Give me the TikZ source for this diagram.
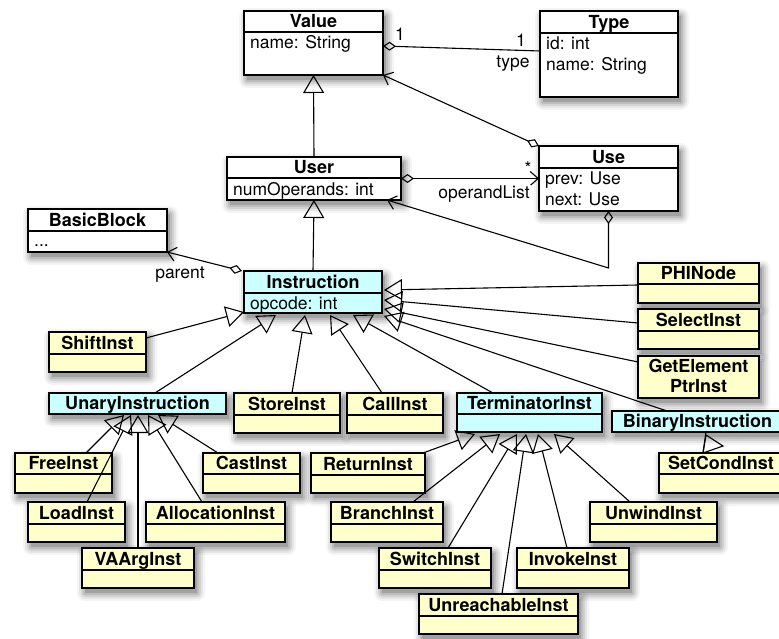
\documentclass[tikz,border=0pt]{standalone}
\usepackage{fontspec}
\setmainfont{TeX Gyre Heros}
\usetikzlibrary{arrows.meta}

\definecolor{clsyellow}{HTML}{FFFFCC}
\definecolor{clscyan}{HTML}{CCFFFF}

\newcommand\regfont{\fontsize{17.5}{20}\selectfont}
\newcommand\headfont{\fontsize{18}{20}\selectfont\bfseries}

\tikzset{
  x=1pt, y=-1pt,
  box/.style={draw=black, line width=1.2pt, rectangle, inner sep=0pt, outer sep=0pt},
  rule/.style={line width=1.2pt},
  title/.style={font=\headfont, inner sep=0pt, text height=12.9pt, text depth=0pt},
  attr/.style={font=\regfont, anchor=west, inner sep=0pt, text height=12.5pt, text depth=0pt},
  lbl/.style={font=\regfont, inner sep=1pt, text height=12.5pt, text depth=0pt},
  inh/.style={line width=1.1pt, -{Triangle[open, length=18pt, width=21pt]}},
  assoc/.style={line width=1.1pt, {Diamond[open, length=13pt, width=9pt]}-{Straight Barb[length=8pt, width=14pt]}},
  aggr/.style={line width=1.1pt, {Diamond[open, length=13pt, width=9pt]}-},
}

% class box: name, fill, left, top, right, bottom, divider (0 = none), title
\newcommand\classbox[8]{%
  \foreach \g/\o in {8/0.04,6/0.06,4/0.08,2/0.1,0/0.14}{%
    \fill[black, opacity=\o, rounded corners=\g pt] ({#3+3-\g},{#4+5-\g}) rectangle ({#5+3+\g},{#6+5+\g});
  }%
  \node[box, fill=#2, minimum width={#5-#3}, minimum height={#6-#4}] (#1) at ({(#3+#5)/2},{(#4+#6)/2}) {};
  \ifnum#7>0
    \draw[rule] (#3,#7) -- (#5,#7);
    \node[title] (#1-title) at ({(#3+#5)/2},{(#4+#7)/2}) {#8};
  \else
    \node[title] (#1-title) at ({(#3+#5)/2},{(#4+#6)/2}) {#8};
  \fi
}

\begin{document}
\begin{tikzpicture}
\useasboundingbox (0,0) rectangle (779,639);
\clip (0,0) rectangle (779,639);
\fill[white] (0,0) rectangle (779,639);

% core classes
\classbox{value}{white}{244}{11}{383}{75}{32}{Value}
\node[attr] (value-a1) at (250,42) {name: String};

\classbox{type}{white}{540}{11}{678}{97}{33}{Type}
\node[attr] (type-a1) at (546,43) {id: int};
\node[attr] (type-a2) at (546,64) {name: String};

\classbox{user}{white}{227}{157}{401}{200}{178}{User}
\node[attr] (user-a1) at (233,189.5) {numOperands: int};

\classbox{use}{white}{539}{146}{678}{211}{168}{Use}
\node[attr] (use-a1) at (545,178.5) {prev: Use};
\node[attr] (use-a2) at (545,199.5) {next: Use};

\classbox{bb}{white}{28}{209}{167}{252}{231}{BasicBlock}
\node[attr] (bb-a1) at (34,240) {...};

\classbox{instr}{clscyan}{244}{271}{382}{313}{293}{Instruction}
\node[attr] (instr-a1) at (250,303) {opcode: int};

% instruction subclasses
\classbox{phi}{clsyellow}{638}{263}{759}{303}{284}{PHINode}
\classbox{select}{clsyellow}{638}{309}{759}{349}{331}{SelectInst}
\classbox{gep}{clsyellow}{638}{356}{759}{398}{0}{}
\node[title] (gep-t1) at (698.5,366.5) {GetElement};
\node[title] (gep-t2) at (698.5,386.5) {PtrInst};
\classbox{shift}{clsyellow}{49}{332}{146}{372}{354}{ShiftInst}
\classbox{unary}{clscyan}{49}{393}{226}{414}{0}{UnaryInstruction}
\classbox{store}{clsyellow}{234}{393}{340}{433}{415}{StoreInst}
\classbox{call}{clsyellow}{347}{393}{443}{433}{415}{CallInst}
\classbox{term}{clscyan}{457}{393}{602}{432}{414}{TerminatorInst}
\classbox{binary}{clscyan}{612}{411}{783}{432}{0}{BinaryInstruction}

\classbox{free}{clsyellow}{15}{453}{112}{493}{474}{FreeInst}
\classbox{cast}{clsyellow}{203}{453}{300}{493}{474}{CastInst}
\classbox{load}{clsyellow}{28}{502}{125}{542}{524}{LoadInst}
\classbox{alloc}{clsyellow}{146}{502}{285}{542}{524}{AllocationInst}
\classbox{vaarg}{clsyellow}{82}{548}{194}{588}{570}{VAArgInst}

\classbox{ret}{clsyellow}{311}{453}{425}{493}{475}{ReturnInst}
\classbox{setcond}{clsyellow}{659}{453}{783}{493}{474}{SetCondInst}
\classbox{branch}{clsyellow}{331}{502}{443}{542}{524}{BranchInst}
\classbox{unwind}{clsyellow}{590}{502}{717}{542}{524}{UnwindInst}
\classbox{switch}{clsyellow}{379}{548}{491}{588}{570}{SwitchInst}
\classbox{invoke}{clsyellow}{517}{548}{629}{588}{570}{InvokeInst}
\classbox{unreach}{clsyellow}{419}{594}{578}{634}{616}{UnreachableInst}

% generalisations
\draw[inh] (user.north) -- (value.south);
\draw[inh] (instr.north) -- (user.south);

\draw[inh] ([yshift=-6pt]shift.north east) -- ([yshift=1pt]instr.south west);
\draw[inh] ([xshift=106pt]unary.north west) -- ([xshift=32pt,yshift=-2pt]instr.south west);
\draw[inh] ([xshift=58pt]store.north west) -- ([xshift=61pt,yshift=-2pt]instr.south west);
\draw[inh] ([xshift=35pt]call.north west) -- ([xshift=86pt,yshift=-2pt]instr.south west);
\draw[inh] ([xshift=36pt]term.north west) -- ([xshift=109pt,yshift=-2pt]instr.south west);
\draw[inh] ([xshift=55pt]binary.north west) -- ([xshift=2pt,yshift=-3pt]instr.south east);
\draw[inh] ([yshift=-6pt]gep.north west) -- ([xshift=2pt,yshift=4pt]instr.south east);
\draw[inh] ([yshift=-14pt]select.north west) -- ([xshift=2pt,yshift=13pt]instr.south east);
\draw[inh] ([yshift=-22pt]phi.north west) -- ([xshift=2pt,yshift=23pt]instr.south east);

\draw[inh] ([xshift=71pt]free.north west) -- ([xshift=75pt,yshift=-1pt]unary.south west);
\draw[inh] ([xshift=59pt]load.north west) -- ([xshift=82pt,yshift=-1pt]unary.south west);
\draw[inh] ([xshift=56pt]vaarg.north west) -- ([xshift=89pt,yshift=-1pt]unary.south west);
\draw[inh] ([xshift=56pt]alloc.north west) -- ([xshift=99pt,yshift=-1pt]unary.south west);
\draw[inh] ([xshift=15pt]cast.north west) -- ([xshift=109pt,yshift=-1pt]unary.south west);

\draw[inh] ([xshift=112pt]ret.north west) -- ([xshift=18pt,yshift=-2pt]term.south west);
\draw[inh] ([xshift=82pt]branch.north west) -- ([xshift=43pt,yshift=-2pt]term.south west);
\draw[inh] ([xshift=69pt]switch.north west) -- ([xshift=60pt,yshift=-2pt]term.south west);
\draw[inh] ([xshift=83pt]unreach.north west) -- ([xshift=69pt,yshift=-2pt]term.south west);
\draw[inh] ([xshift=50pt]invoke.north west) -- ([xshift=81pt,yshift=-2pt]term.south west);
\draw[inh] ([xshift=40pt]unwind.north west) -- ([xshift=97pt,yshift=-2pt]term.south west);

\draw[line width=1.1pt] ([xshift=44pt]setcond.north west) coordinate (sc1) -- ([xshift=94pt]binary.south west);
\draw[line width=1.1pt] (sc1) -- ++(3,-18) -- ++(17,11) -- cycle;

% associations
\draw[aggr] ([yshift=-35pt]value.north east) -- ([yshift=-40pt]type.north west);
\draw[assoc] (use.north west) -- (value.south east);
\draw[assoc] (user.east) -- (use.west);
\draw[assoc] (use.south) -- ++(0,57) -- ([xshift=-14pt]user.south east);
\draw[assoc] ([xshift=-2pt]instr.north west) -- (bb.south east);

% role names and multiplicities
\node[lbl] (m-value) at (400,34) {1};
\node[lbl] (m-type) at (521,40) {1};
\node[lbl, fill=white] (r-type) at (513,61.5) {type};
\node[lbl] (m-use) at (528,168) {*};
\node[lbl, fill=white] (r-operands) at (484,192.5) {operandList};
\node[lbl] (r-parent) at (180,272.5) {parent};
\end{tikzpicture}
\end{document}
